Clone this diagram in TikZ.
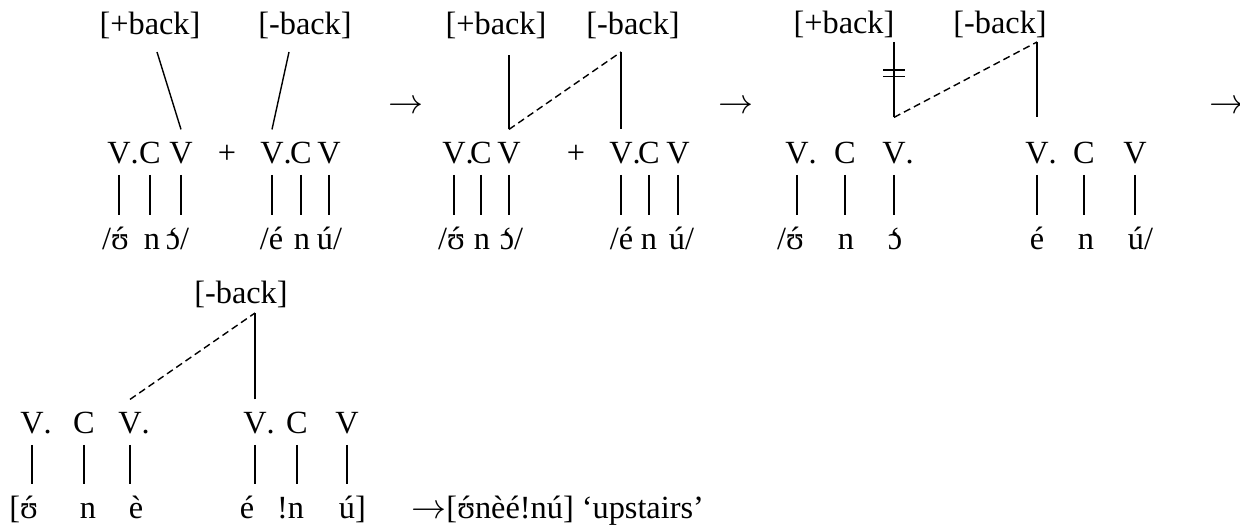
\documentclass[tikz,border=0pt]{standalone}
\usepackage{fontspec}
\setmainfont{Liberation Serif}
\usetikzlibrary{calc}
\newcommand\hiacc[1]{\accent"00B4 #1}
\newcommand\loacc[1]{\accent"0060 #1}
\begin{document}
\begin{tikzpicture}[x=0.25mm,y=-0.25mm,line width=1pt,
  every node/.style={font=\fontsize{23}{27}\selectfont},
  tier/.style={anchor=base,inner sep=8pt,text height=15.4pt,text depth=0pt},
  feat/.style={anchor=base,inner sep=2pt},
  assoc/.style={dash pattern=on 5pt off 3pt}]
  \useasboundingbox (0,0) rectangle (1240,531);
  \begin{scope}
    \node[feat] (fp1) at (150,35) {[+back]}; \node[feat] (fm1) at (305,35) {[-back]};
    \node[tier] (v11) at (119,163) {V\rlap{.}}; \node[tier] (v12) at (150,163) {C}; \node[tier] (v13) at (181,163) {V};
    \node[tier] (pl1) at (227,163) {+};
    \node[tier] (w11) at (272,163) {V\rlap{.}}; \node[tier] (w12) at (301,163) {C}; \node[tier] (w13) at (329,163) {V};
    \node[tier] (s11) at (120,249) {\llap{/}\hiacc{ʊ}}; \node[tier] (s12) at (152,249) {n}; \node[tier] (s13) at (173,249) {\loacc{ɔ}\rlap{/}};
    \node[tier] (t11) at (276,249) {\llap{/}é}; \node[tier] (t12) at (302,249) {n}; \node[tier] (t13) at (325,249) {ú\rlap{/}};
    \foreach \i in {1,2,3} {\draw (v1\i.south) -- (v1\i.south |- s1\i.north); \draw (w1\i.south) -- (w1\i.south |- t1\i.north);}
    \coordinate (k11) at (157,52); \coordinate (k12) at (289,52);
    \draw (k11) -- (v13.north); \draw (k12) -- (w11.north);
    \node (ar1) at (406,107) {$\rightarrow$};
  \end{scope}
  \begin{scope}
    \node[feat] (fp2) at (496,35) {[+back]}; \node[feat] (fm2) at (633,35) {[-back]};
    \node[tier] (v21) at (454,163) {V\rlap{.}}; \node[tier] (v22) at (481,163) {C}; \node[tier] (v23) at (509,163) {V};
    \node[tier] (pl2) at (576,163) {+};
    \node[tier] (w21) at (621,163) {V\rlap{.}}; \node[tier] (w22) at (649,163) {C}; \node[tier] (w23) at (678,163) {V};
    \node[tier] (s21) at (456,249) {\llap{/}\hiacc{ʊ}}; \node[tier] (s22) at (482,249) {n}; \node[tier] (s23) at (507,249) {\loacc{ɔ}\rlap{/}};
    \node[tier] (t21) at (626,249) {\llap{/}é}; \node[tier] (t22) at (649,249) {n}; \node[tier] (t23) at (677,249) {ú\rlap{/}};
    \foreach \i in {1,2,3} {\draw (v2\i.south) -- (v2\i.south |- s2\i.north); \draw (w2\i.south) -- (w2\i.south |- t2\i.north);}
    \coordinate (k21) at (509,55); \coordinate (k22) at (621,52);
    \draw (v23.north) -- (k21); \draw[assoc] (v23.north) -- (k22); \draw (k22) -- (w21.north);
    \node (ar2) at (736,107) {$\rightarrow$};
  \end{scope}
  \begin{scope}
    \node[feat] (fp3) at (844,34) {[+back]}; \node[feat] (fm3) at (1000,34) {[-back]};
    \node[tier] (v31) at (797,163) {V\rlap{.}}; \node[tier] (v32) at (845,163) {C}; \node[tier] (v33) at (894,163) {V\rlap{.}};
    \node[tier] (w31) at (1037,163) {V\rlap{.}}; \node[tier] (w32) at (1084,163) {C}; \node[tier] (w33) at (1135,163) {V};
    \node[tier] (s31) at (795,249) {\llap{/}\hiacc{ʊ}}; \node[tier] (s32) at (846,249) {n}; \node[tier] (s33) at (895,249) {\loacc{ɔ}};
    \node[tier] (t31) at (1037,249) {é}; \node[tier] (t32) at (1086,249) {n}; \node[tier] (t33) at (1136,249) {ú\rlap{/}};
    \foreach \i in {1,2,3} {\draw (v3\i.south) -- (v3\i.south |- s3\i.north); \draw (w3\i.south) -- (w3\i.south |- t3\i.north);}
    \coordinate (j31) at ([yshift=3mm]v33.north); \coordinate (k31) at (j31 |- 0,42);
    \coordinate (j32) at ([yshift=3mm]w31.north); \coordinate (k32) at (j32 |- 0,42);
    \draw (k31) -- (j31); \draw[assoc] (j31) -- (k32); \draw (k32) -- (j32);
    \draw ($(k31)!0.37!(j31)+(-11,0)$) -- +(22,0) ($(k31)!0.46!(j31)+(-11,0)$) -- +(22,0);
    \node (ar3) at (1227,107) {$\rightarrow$};
  \end{scope}
  \begin{scope}
    \node[feat] (fm4) at (241,303) {[-back]};
    \node[tier] (v41) at (32,433) {V\rlap{.}}; \node[tier] (v42) at (84,433) {C}; \node[tier] (v43) at (130,433) {V\rlap{.}};
    \node[tier] (w41) at (255,433) {V\rlap{.}}; \node[tier] (w42) at (297,433) {C}; \node[tier] (w43) at (347,433) {V};
    \node[tier] (s41) at (29,518) {\llap{[}\hiacc{ʊ}}; \node[tier] (s42) at (88,518) {n}; \node[tier] (s43) at (136,518) {è};
    \node[tier] (t41) at (247,518) {é}; \node[tier] (t42) at (296,518) {\llap{!}n}; \node[tier] (t43) at (347,518) {ú\rlap{]}};
    \foreach \i in {1,2,3} {\draw (v4\i.south) -- (v4\i.south |- s4\i.north); \draw (w4\i.south) -- (w4\i.south |- t4\i.north);}
    \coordinate (k41) at (w41.north |- 0,313);
    \draw (w41.north) -- (k41); \draw[assoc] (v43.north) -- (k41);
    \node[feat,anchor=base west] (res) at (408,518) {$\rightarrow$[\hiacc{ʊ}nèé!nú] ‘upstairs’};
  \end{scope}
\end{tikzpicture}
\end{document}
